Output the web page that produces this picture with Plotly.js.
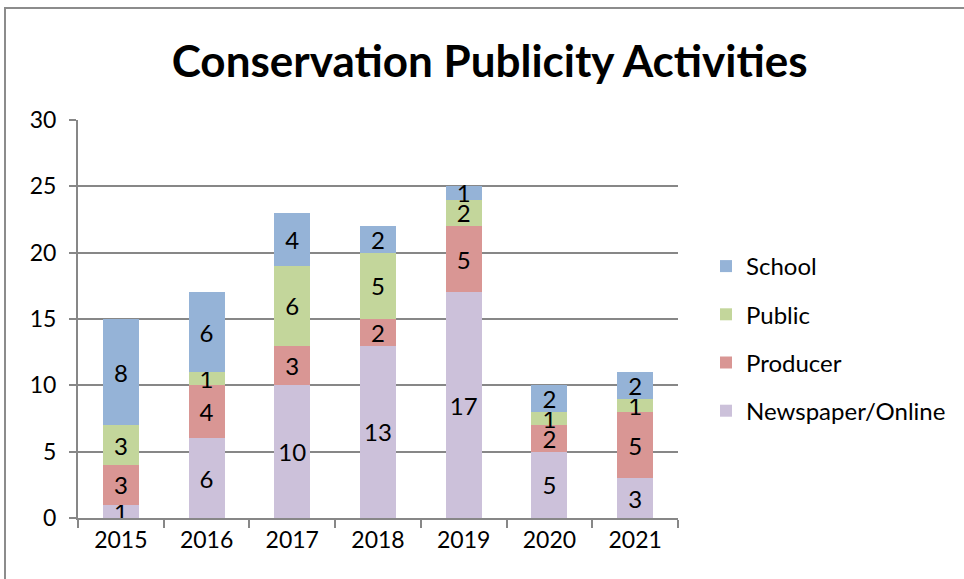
<!DOCTYPE html>
<html>
<head>
<meta charset="utf-8">
<script src="https://cdn.plot.ly/plotly-3.0.1.min.js"></script>
<style>
html,body{margin:0;padding:0;background:#fff;overflow:hidden;}
#chart{width:964px;height:579px;}
#frame{position:absolute;left:4px;top:7px;width:1200px;height:1200px;border-left:2px solid #8c8c8c;border-top:2px solid #8c8c8c;pointer-events:none;}
</style>
</head>
<body>
<div id="chart"></div>
<div id="frame"></div>
<script>
const years = ['2015','2016','2017','2018','2019','2020','2021'];
const newspaper = [1, 6, 10, 13, 17, 5, 3];
const producer = [3, 4, 3, 2, 5, 2, 5];
const publicVals = [3, 1, 6, 5, 2, 1, 1];
const school = [8, 6, 4, 2, 1, 2, 2];
const seriesNames = ['Newspaper/Online', 'Producer', 'Public', 'School'];
const seriesColors = ['#CCC1DA', '#D99694', '#C3D69B', '#95B3D7'];
const seriesValues = [newspaper, producer, publicVals, school];

const FONT = 'Lato, "Noto Sans", sans-serif';

const traces = seriesValues.map((vals, i) => ({
  type: 'bar',
  name: seriesNames[i],
  x: years,
  y: vals,
  marker: {color: seriesColors[i], line: {width: 0}},
  text: vals.map(String),
  textposition: 'inside',
  insidetextanchor: 'middle',
  textangle: 0,
  constraintext: 'none',
  textfont: {family: FONT, size: 24, color: '#000'},
  legendgroup: 'g' + i,
  legendrank: 1000 - i,
  hoverinfo: 'x+y+name'
}));

const layout = {
  width: 964,
  height: 579,
  margin: {l: 78, r: 286, t: 120, b: 61},
  paper_bgcolor: '#fff',
  plot_bgcolor: '#fff',
  barmode: 'stack',
  bargap: 0.58,
  font: {family: FONT, color: '#000'},
  title: {
    text: '<b>Conservation Publicity Activities</b>',
    font: {family: FONT, size: 44, color: '#000'},
    xref: 'container', x: 0.508, xanchor: 'center',
    yref: 'container', y: 1 - 62/579, yanchor: 'middle'
  },
  xaxis: {
    type: 'category',
    showline: true, linecolor: '#878787', linewidth: 2,
    ticks: 'outside', tickson: 'boundaries', ticklen: 8, tickwidth: 2, tickcolor: '#878787',
    tickfont: {family: FONT, size: 23, color: '#000'},
    showgrid: false, zeroline: false, fixedrange: true
  },
  yaxis: {
    range: [0, 30], dtick: 5, tick0: 0,
    showline: true, linecolor: '#878787', linewidth: 2,
    ticks: 'outside', ticklen: 7, tickwidth: 2, tickcolor: '#878787',
    tickfont: {family: FONT, size: 23, color: '#000'},
    showgrid: true, gridcolor: '#878787', gridwidth: 2,
    zeroline: false, fixedrange: true, ticklabelstandoff: 8
  },
  showlegend: true,
  legend: {
    traceorder: 'grouped',
    tracegroupgap: 14,
    x: (706 - 78) / 600, xanchor: 'left',
    y: (518 - 244) / 398, yanchor: 'top',
    font: {family: FONT, size: 24, color: '#000'},
    bgcolor: 'rgba(0,0,0,0)',
    itemwidth: 30
  }
};

Plotly.newPlot('chart', traces, layout, {displayModeBar: false, staticPlot: true});
</script>
</body>
</html>
